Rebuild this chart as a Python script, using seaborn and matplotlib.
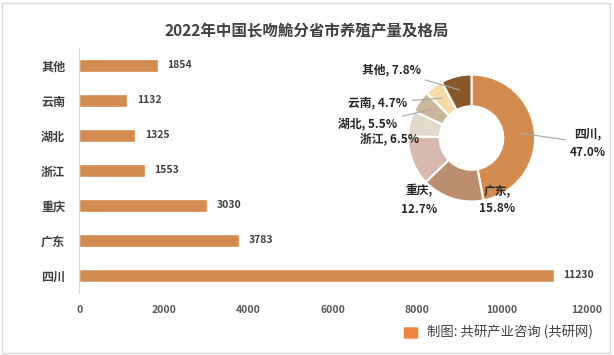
import numpy as np
import pandas as pd
import matplotlib as mpl
mpl.use("Agg")
import matplotlib.pyplot as plt
from matplotlib.patches import Rectangle, FancyBboxPatch
import seaborn as sns

# data
provinces = ["其他", "云南", "湖北", "浙江", "重庆", "广东", "四川"]
output = [1854, 1132, 1325, 1553, 3030, 3783, 11230]
pie_order = ["四川", "广东", "重庆", "浙江", "湖北", "云南", "其他"]
pie_colors = ["#D48C4E", "#BC8E6E", "#D8B9AF", "#E2DACA", "#C9B69C", "#F6DBA8", "#8A572A"]
x_ticks = [0, 2000, 4000, 6000, 8000, 10000, 12000]


def main():
    sns.set_style("white")
    plt.rcParams["font.family"] = ["Noto Sans CJK SC", "DejaVu Sans"]
    text_color = "#404040"

    df = pd.DataFrame({"province": provinces, "output": output})

    fig = plt.figure(figsize=(6.14, 3.55), dpi=100)
    fig.patches.append(Rectangle((0.004, 0.006), 0.99, 0.986, transform=fig.transFigure,
                                 fill=False, edgecolor="#D9D9D9", linewidth=1))
    fig.text(0.5, 1 - 31 / 355, "2022年中国长吻鮠分省市养殖产量及格局", ha="center", va="center",
             fontsize=11.2, fontweight="bold", color=text_color)

    # bar chart
    ax = fig.add_axes([0.129, 0.175, 0.826, 0.69])
    sns.barplot(data=df, y="province", x="output", order=provinces, orient="h",
                color="#D38B4F", saturation=1, width=0.35, ax=ax)
    ax.bar_label(ax.containers[0], padding=7, fontsize=7.5, fontweight="bold", color=text_color)
    ax.set_xlim(0, 12000)
    ax.set_xticks(x_ticks)
    ax.set_xlabel("")
    ax.set_ylabel("")
    ax.tick_params(axis="both", length=0)
    ax.tick_params(axis="y", pad=10, labelsize=8.7, labelcolor=text_color)
    ax.tick_params(axis="x", pad=9, labelsize=7.5, labelcolor="#595959")
    for lab in ax.get_xticklabels() + ax.get_yticklabels():
        lab.set_fontweight("bold")
    for s in ["top", "right", "bottom"]:
        ax.spines[s].set_visible(False)
    ax.spines["left"].set_color("#D9D9D9")
    ax.patch.set_alpha(0)

    # donut chart
    r_pix = 63.5
    half = 100
    cx, cy = 471.5, 138
    ax2 = fig.add_axes([(cx - half) / 614, (355 - cy - half) / 355, 2 * half / 614, 2 * half / 355])
    lim = half / r_pix
    pie_vals = [output[provinces.index(p)] for p in pie_order]
    total = sum(pie_vals)
    wedges, _ = ax2.pie(pie_vals, colors=pie_colors, startangle=90, counterclock=False,
                        wedgeprops=dict(width=0.5, edgecolor="white", linewidth=1.5))
    ax2.set_xlim(-lim, lim)
    ax2.set_ylim(-lim, lim)
    ax2.set_aspect("auto")
    ax2.axis("off")

    def pix(px, py):
        return ((px - cx) / r_pix, (cy - py) / r_pix)

    # label text centres in pixel positions, two-line flag, leader line flag
    label_pos = {
        "四川": (588, 143, True, True),
        "广东": (497, 200, True, False),
        "重庆": (419, 200, True, False),
        "浙江": (390, 139, False, False),
        "湖北": (368, 124, False, True),
        "云南": (378, 103, False, True),
        "其他": (391, 70, False, True),
    }
    for w, name, val in zip(wedges, pie_order, pie_vals):
        pct = f"{val / total * 100:.1f}%"
        px, py, two_line, line = label_pos[name]
        txt = f"{name},\n{pct}" if two_line else f"{name}, {pct}"
        ang = np.deg2rad((w.theta1 + w.theta2) / 2)
        xy = (0.78 * np.cos(ang), 0.78 * np.sin(ang))
        ax2.annotate(txt, xy=xy, xytext=pix(px, py), ha="center", va="center",
                     fontsize=8.5, fontweight="bold", color="#262626", linespacing=1.5,
                     annotation_clip=False,
                     arrowprops=dict(arrowstyle="-", color="#A6A6A6", lw=0.8,
                                     shrinkA=1, shrinkB=0) if line else None)

    # footer
    fig.patches.append(FancyBboxPatch((405 / 614, 1 - 338 / 355), 12 / 614, 10 / 355,
                                      boxstyle="round,pad=0.002", transform=fig.transFigure,
                                      facecolor="#F0843C", edgecolor="none"))
    fig.text(427 / 614, 1 - 332 / 355, "制图: 共研产业咨询 (共研网)", ha="left", va="center",
             fontsize=9.6, color=text_color)

    plt.savefig("out.png", dpi=100)


if __name__ == "__main__":
    main()
